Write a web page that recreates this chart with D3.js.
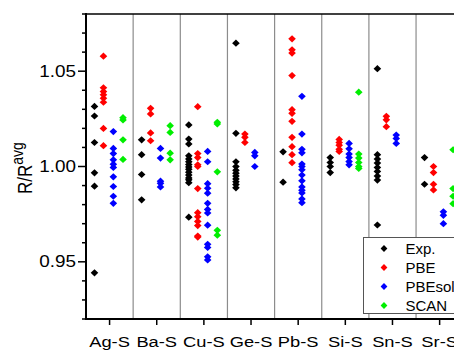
<!DOCTYPE html>
<html>
<head>
<meta charset="utf-8">
<script src="https://cdn.jsdelivr.net/npm/d3@7"></script>
<style>
  html, body { margin: 0; padding: 0; background: #fff; }
  svg { display: block; }
  text { font-family: "Liberation Sans", Arial, sans-serif; fill: #000; }
</style>
</head>
<body>
<svg id="chart" width="454" height="353"></svg>
<script>
// Bond ratios R/R_avg per compound, grouped by method
const categories = ["Ag-S", "Ba-S", "Cu-S", "Ge-S", "Pb-S", "Si-S", "Sn-S", "Sr-S"];
const seriesNames = ["Exp.", "PBE", "PBEsol", "SCAN"];

const expVals = [
  [1.0315, 1.0265, 1.0126, 0.9967, 0.9897, 0.9442],
  [1.014, 1.0062, 0.9958, 0.9825],
  [1.0218, 1.0144, 1.0118, 1.0056, 1.004, 1.0025, 1.001, 0.9998, 0.9985, 0.997, 0.9955, 0.994, 0.993, 0.9915, 0.9734],
  [1.0647, 1.0174, 1.0025, 1.0, 0.998, 0.9965, 0.995, 0.9935, 0.992, 0.9905, 0.9888],
  [1.0077, 0.9918],
  [1.0047, 1.0021, 1.0, 0.9968],
  [1.0513, 1.0062, 1.0039, 1.0018, 0.9995, 0.9974, 0.995, 0.9929, 0.9693],
  [1.0047, 0.9907]
];
const pbeVals = [
  [1.0579, 1.0413, 1.0393, 1.0376, 1.0358, 1.0337, 1.02, 1.0109],
  [1.0305, 1.0276, 1.0176, 1.0135],
  [1.0314, 1.0068, 1.0047, 1.0009, 1.0, 0.9884, 0.9758, 0.9737, 0.9712, 0.969, 0.9635, 0.963],
  [1.017, 1.0153, 1.0126],
  [1.067, 1.0612, 1.0595, 1.0477, 1.0298, 1.0279, 1.0237, 1.0153, 1.0104, 1.0062, 1.002],
  [1.0142, 1.0126, 1.0112, 1.009, 1.0079],
  [1.0263, 1.0245, 1.0209],
  [1.0, 0.9968, 0.9907, 0.9877]
];
const pbesolVals = [
  [1.0183, 1.0095, 1.0068, 1.0035, 1.0012, 0.9995, 0.9946, 0.9895, 0.9844, 0.9807],
  [1.0095, 1.0044, 0.9923, 0.9912, 0.9893],
  [1.0079, 1.0025, 0.991, 0.9886, 0.986, 0.9807, 0.9775, 0.9756, 0.9692, 0.9592, 0.9575, 0.9526, 0.951],
  [1.0074, 1.0056, 1.0],
  [1.0368, 1.017, 1.009, 1.0072, 1.0013, 1.0, 0.9983, 0.9955, 0.9925, 0.9893, 0.9875, 0.9861, 0.983, 0.981],
  [1.0121, 1.0093, 1.0065, 1.0047, 1.0026, 1.0009],
  [1.0165, 1.0147, 1.0121],
  [0.9762, 0.9744, 0.97]
];
const scanVals = [
  [1.0256, 1.0244, 1.014, 1.0037],
  [1.0214, 1.0179, 1.007, 1.0035],
  [1.0232, 1.0223, 0.9972, 0.9665, 0.964],
  [],
  [],
  [1.039, 1.0065, 1.0044, 1.0021, 1.0, 0.999],
  [],
  [1.0088, 0.9884, 0.9844, 0.9805]
];
const yMajorTicks = [0.95, 1.00, 1.05];

const seriesValues = [expVals, pbeVals, pbesolVals, scanVals];
const colors = ["#000000", "#ff0000", "#0000ff", "#00ee00"];
// horizontal position of each method inside its compound band (fraction of band width)
const offsets = [-0.32, -0.13, 0.08, 0.285];

const svg = d3.select("#chart");
const plotLeft = 86, plotTop = 14, plotBottom = 319, plotRight = 463.2;

const x = d3.scaleBand().domain(categories).range([plotLeft, plotRight]).padding(0);
const y = d3.scaleLinear().domain([0.92, 1.08]).range([plotBottom, plotTop]);
const bw = x.bandwidth();

// Font glyphs in this figure are slightly wider than tall
const sx = 1.18;

// Band separators
svg.append("g").selectAll("line")
  .data(categories.slice(1))
  .join("line")
  .attr("x1", d => x(d)).attr("x2", d => x(d))
  .attr("y1", plotTop).attr("y2", plotBottom)
  .attr("stroke", "#8c8c8c").attr("stroke-width", 1.2);

// Diamond marker
function diamond(hw, hh) {
  return `M0,${-hh}L${hw},0L0,${hh}L${-hw},0Z`;
}

// Points
const pts = [];
seriesValues.forEach((vals, s) => {
  vals.forEach((arr, ci) => {
    arr.forEach(v => pts.push({ s, c: categories[ci], v }));
  });
});
svg.append("g").selectAll("path")
  .data(pts)
  .join("path")
  .attr("d", diamond(3.8, 3.6))
  .attr("transform", d => `translate(${x(d.c) + bw / 2 + offsets[d.s] * bw},${y(d.v)})`)
  .attr("fill", d => colors[d.s]);

// Frame: top border and right border
svg.append("line")
  .attr("x1", plotLeft).attr("x2", plotRight).attr("y1", plotTop).attr("y2", plotTop)
  .attr("stroke", "#000").attr("stroke-width", 1.6);
svg.append("line")
  .attr("x1", plotRight).attr("x2", plotRight).attr("y1", plotTop).attr("y2", plotBottom)
  .attr("stroke", "#000").attr("stroke-width", 1.6);

// Y axis
const yAxis = svg.append("g").attr("transform", `translate(${plotLeft},0)`);
yAxis.append("line").attr("x1", 0).attr("x2", 0).attr("y1", plotTop - 1).attr("y2", plotBottom + 1)
  .attr("stroke", "#000").attr("stroke-width", 2);
const minor = d3.range(92, 109).map(d => d / 100);
yAxis.selectAll("line.minor")
  .data(minor.filter(m => !yMajorTicks.some(t => Math.abs(t - m) < 1e-6)))
  .join("line").attr("class", "minor")
  .attr("x1", -4).attr("x2", 0)
  .attr("y1", d => y(d)).attr("y2", d => y(d))
  .attr("stroke", "#000").attr("stroke-width", 1.5);
yAxis.selectAll("line.major")
  .data(yMajorTicks)
  .join("line").attr("class", "major")
  .attr("x1", -8).attr("x2", 0)
  .attr("y1", d => y(d)).attr("y2", d => y(d))
  .attr("stroke", "#000").attr("stroke-width", 1.5);
yAxis.selectAll("text")
  .data(yMajorTicks)
  .join("text")
  .attr("transform", d => `translate(-10,${y(d)}) scale(${sx},1)`)
  .attr("text-anchor", "end")
  .attr("dy", "0.35em")
  .style("font-size", "16px")
  .text(d3.format(".2f"));

// X axis
const xAxis = svg.append("g");
xAxis.append("line").attr("x1", plotLeft - 1).attr("x2", plotRight).attr("y1", plotBottom).attr("y2", plotBottom)
  .attr("stroke", "#000").attr("stroke-width", 2);
xAxis.selectAll("line.tick")
  .data(categories)
  .join("line").attr("class", "tick")
  .attr("x1", d => x(d) + bw / 2).attr("x2", d => x(d) + bw / 2)
  .attr("y1", plotBottom).attr("y2", plotBottom + 6)
  .attr("stroke", "#000").attr("stroke-width", 1.5);
xAxis.selectAll("text")
  .data(categories)
  .join("text")
  .attr("transform", d => `translate(${x(d) + bw / 2},347) scale(${sx},1)`)
  .attr("text-anchor", "middle")
  .style("font-size", "15.5px")
  .text(d => d);

// Y axis title
const yt = svg.append("text")
  .attr("transform", `translate(32,168) scale(${sx},1) rotate(-90)`)
  .attr("text-anchor", "middle")
  .style("font-size", "17px");
yt.append("tspan").text("R/R");
yt.append("tspan").attr("dy", "-0.55em").style("font-size", "14px").text("avg");

// Legend
const lg = svg.append("g").attr("transform", "translate(363.5,237.5)");
lg.append("rect").attr("width", 110).attr("height", 76)
  .attr("fill", "#fff").attr("stroke", "#555").attr("stroke-width", 1);
seriesNames.forEach((n, i) => {
  const row = lg.append("g").attr("transform", `translate(0,${11 + i * 19})`);
  row.append("path").attr("d", diamond(3.4, 3.4)).attr("transform", "translate(20.5,0)")
    .attr("fill", colors[i]);
  row.append("text").attr("x", 42).attr("dy", "0.36em")
    .style("font-size", "15px").text(n);
});
</script>
</body>
</html>
